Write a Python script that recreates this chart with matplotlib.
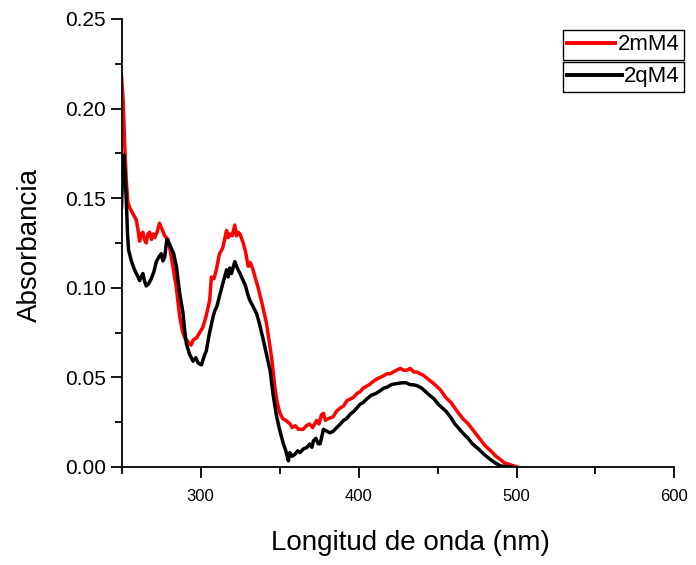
import matplotlib.pyplot as plt
from matplotlib.ticker import MultipleLocator

plt.rcParams['font.family'] = ['Liberation Sans', 'DejaVu Sans']

# 2mM4 spectrum (red)
wl_m = [250, 251, 252, 253, 254, 255, 256.8, 258, 259.3, 260.5, 261.4, 262.5, 263.5, 264.5, 265.6,
        266.7, 267.8, 269, 270, 271, 272.5, 274, 275.5, 277.3, 279.4, 281, 282.5, 284.7, 286.8,
        288.5, 290, 292, 294, 295.5, 297.4, 299.5, 301.5, 303.5, 305.8, 306.9, 308.5, 310, 312,
        314, 316.5, 317.5, 318.5, 320, 321.7, 322.8, 323.8, 325, 327, 328.5, 330.2, 331.5, 333.3,
        334.5, 336.5, 339, 341.8, 343.5, 345, 347, 348.5, 350.3, 352, 354, 356.7, 358, 360, 362,
        365, 367, 369, 371, 373.5, 375, 376.5, 377.8, 379, 381, 384, 386, 388.5, 390.5, 392.7,
        395, 397, 399, 401, 403, 405, 407, 409.6, 411.5, 413.8, 416, 418, 420, 422, 424, 426.5,
        428.5, 430.5, 432.8, 435, 437, 439, 441.3, 444, 447, 449.5, 451.9, 455, 458.5, 462.5,
        466, 469.5, 473, 476.5, 480, 483.7, 487, 490, 492.2, 495, 498, 500.5]
abs_m = [0.218, 0.205, 0.180, 0.160, 0.148, 0.145, 0.142, 0.140, 0.138, 0.132, 0.126, 0.130, 0.131,
         0.127, 0.125, 0.130, 0.131, 0.127, 0.130, 0.128, 0.131, 0.136, 0.133, 0.129, 0.127, 0.120,
         0.112, 0.100, 0.084, 0.076, 0.072, 0.070, 0.068, 0.071, 0.072, 0.075, 0.078, 0.084, 0.093,
         0.106, 0.105, 0.110, 0.119, 0.122, 0.132, 0.128, 0.130, 0.129, 0.135, 0.129, 0.131, 0.130,
         0.125, 0.120, 0.112, 0.114, 0.110, 0.106, 0.100, 0.091, 0.080, 0.070, 0.061, 0.045, 0.036,
         0.030, 0.027, 0.026, 0.024, 0.022, 0.023, 0.021, 0.021, 0.023, 0.024, 0.022, 0.026, 0.024,
         0.029, 0.030, 0.026, 0.027, 0.028, 0.031, 0.033, 0.034, 0.037, 0.038, 0.039, 0.041, 0.042,
         0.044, 0.045, 0.046, 0.048, 0.049, 0.050, 0.051, 0.052, 0.052, 0.053, 0.054, 0.055, 0.054,
         0.054, 0.055, 0.053, 0.053, 0.052, 0.051, 0.049, 0.047, 0.045, 0.043, 0.039, 0.036, 0.031,
         0.027, 0.024, 0.020, 0.016, 0.012, 0.009, 0.006, 0.004, 0.0024, 0.0015, 0.0007, 0.0]

# 2qM4 spectrum (black)
wl_q = [250, 250.7, 251.5, 252.3, 253, 253.8, 254.5, 256.2, 257.8, 259.3, 260.5, 261.4, 262.5, 263.5,
        264.5, 265.6, 267, 268.8, 270.5, 272, 273.5, 275.1, 276.2, 277.3, 278.7, 280, 281.5, 283,
        284.7, 286.8, 288.9, 290, 291, 293, 295.3, 297, 298.5, 300.6, 302, 303.7, 305.5, 308, 309,
        310.5, 312.2, 314, 316.5, 317.5, 318.5, 319.6, 321.7, 322.8, 323.8, 325, 327, 328.5, 330,
        331.2, 333, 335.5, 337, 339.7, 342, 344, 346, 348.2, 350, 352.4, 354, 355.6, 356.5, 358,
        359.8, 361.5, 363, 365, 367.2, 369.2, 370.5, 371.5, 373, 374.5, 375.7, 377, 377.8, 379.9,
        382, 384, 386.3, 388.5, 390.5, 392.5, 394.8, 397, 399, 401, 403, 405.3, 408, 411, 413.8,
        416, 418, 421, 424, 427.6, 430, 432.5, 435, 437, 440, 442.5, 445, 447.8, 450.5, 453, 455.5,
        458.4, 461, 464, 467, 469, 472, 476, 479.4, 483, 486, 489.9, 493, 497]
abs_q = [0.145, 0.165, 0.174, 0.163, 0.149, 0.130, 0.121, 0.115, 0.111, 0.108, 0.106, 0.104, 0.106,
         0.108, 0.104, 0.101, 0.102, 0.105, 0.109, 0.1145, 0.117, 0.119, 0.115, 0.117, 0.127, 0.125,
         0.122, 0.119, 0.112, 0.097, 0.086, 0.076, 0.069, 0.063, 0.059, 0.061, 0.058, 0.057, 0.061,
         0.065, 0.074, 0.084, 0.087, 0.090, 0.096, 0.102, 0.110, 0.106, 0.111, 0.108, 0.1146, 0.112,
         0.110, 0.108, 0.104, 0.101, 0.096, 0.093, 0.090, 0.0856, 0.081, 0.071, 0.062, 0.054, 0.040,
         0.028, 0.021, 0.013, 0.009, 0.0034, 0.008, 0.006, 0.0071, 0.009, 0.008, 0.010, 0.0108, 0.0128,
         0.011, 0.0146, 0.016, 0.013, 0.0129, 0.018, 0.021, 0.020, 0.019, 0.020, 0.022, 0.024, 0.026,
         0.027, 0.0295, 0.031, 0.033, 0.035, 0.036, 0.038, 0.040, 0.041, 0.0426, 0.044, 0.0445, 0.046,
         0.0465, 0.047, 0.047, 0.046, 0.0458, 0.0454, 0.044, 0.042, 0.040, 0.038, 0.035, 0.033, 0.031,
         0.0276, 0.024, 0.021, 0.018, 0.0164, 0.013, 0.010, 0.0071, 0.0045, 0.0025, 0.0006, 0.0002, 0.0]

x_ticks = [300, 400, 500, 600]
y_ticks = [0.00, 0.05, 0.10, 0.15, 0.20, 0.25]

fig = plt.figure(figsize=(6.96, 5.65), dpi=100)
ax = fig.add_axes([0.1746, 0.1735, 0.7945, 0.7929])

line_m, = ax.plot(wl_m, abs_m, color='#ff0000', lw=2.5, label='2mM4')
line_q, = ax.plot(wl_q, abs_q, color='black', lw=2.5, label='2qM4')

ax.set_xlim(250, 600)
ax.set_ylim(0, 0.25)
ax.set_xticks(x_ticks)
ax.set_yticks(y_ticks)
ax.set_yticklabels(['%.2f' % v for v in y_ticks])
ax.xaxis.set_minor_locator(MultipleLocator(50))
ax.yaxis.set_minor_locator(MultipleLocator(0.025))

ax.spines['top'].set_visible(False)
ax.spines['right'].set_visible(False)
for s in ['left', 'bottom']:
    ax.spines[s].set_linewidth(1.3)
ax.tick_params(which='major', direction='out', length=8, width=1.3)
ax.tick_params(which='minor', direction='out', length=5, width=1.3)
ax.tick_params(axis='x', labelsize=12, pad=8)
ax.tick_params(axis='y', labelsize=15, pad=3)

ax.set_xlabel('Longitud de onda (nm)', fontsize=20)
ax.set_ylabel('Absorbancia', fontsize=20)
ax.xaxis.set_label_coords((410 - 121.5) / 553, -(543 - 467) / 448, transform=ax.transAxes)
ax.yaxis.set_label_coords(-(121.5 - 30) / 553, (467 - 245) / 448, transform=ax.transAxes)
ax.xaxis.label.set_va('center')
ax.yaxis.label.set_va('center')

# two separate boxed legends, Origin style (text right-aligned, same box width)
leg_kw = dict(fontsize=16, frameon=True, fancybox=False, edgecolor='black', framealpha=1,
              handletextpad=0.1, borderpad=0.2, borderaxespad=0)
leg1 = fig.legend([line_m], ['2mM4'], loc='upper right', handlelength=2.18,
                  bbox_to_anchor=(684 / 696, 1 - 30 / 565), **leg_kw)
leg2 = fig.legend([line_q], ['2qM4'], loc='upper right', handlelength=2.46,
                  bbox_to_anchor=(684 / 696, 1 - 62 / 565), **leg_kw)
for leg in (leg1, leg2):
    leg.get_frame().set_linewidth(1.0)
    for h in leg.legend_handles:
        h.set_linewidth(2.8)

plt.savefig('out.png', dpi=100)
